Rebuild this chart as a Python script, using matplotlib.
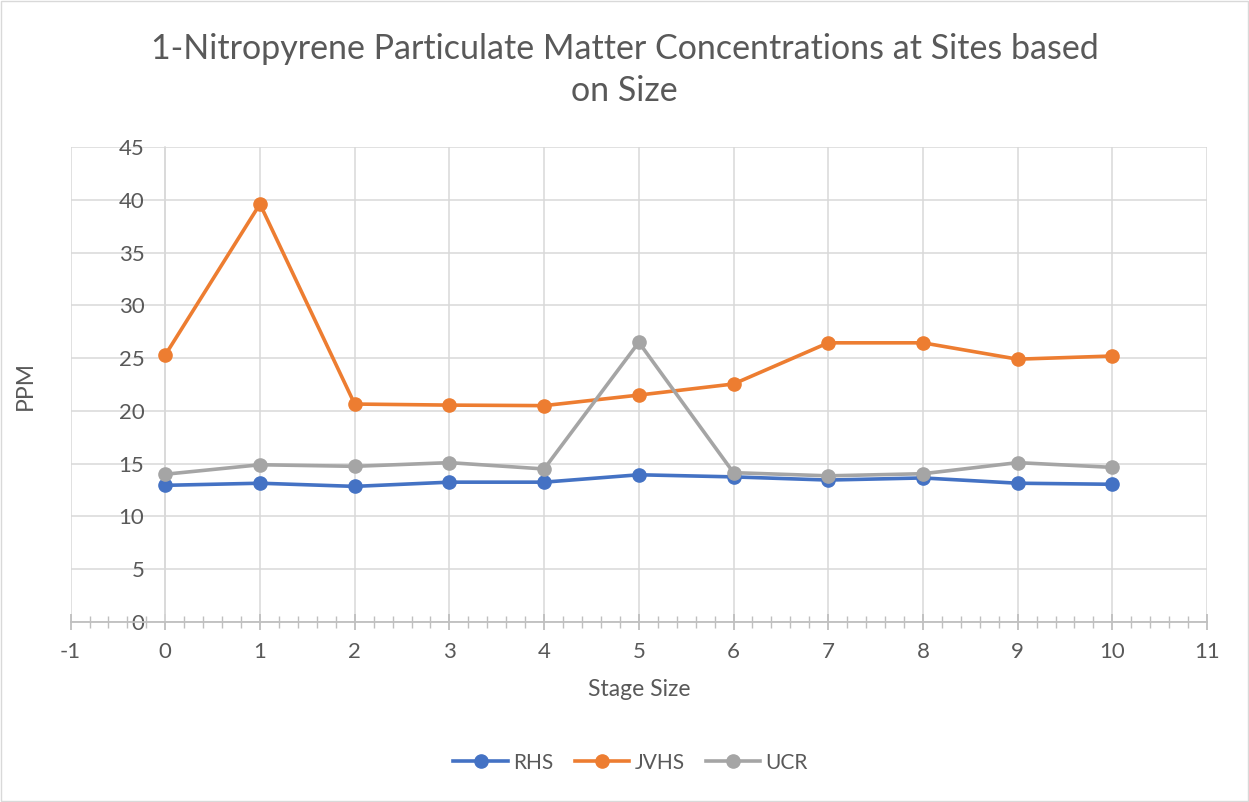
import matplotlib.pyplot as plt
from matplotlib.patches import Rectangle
from matplotlib.ticker import MultipleLocator

plt.rcParams['font.family'] = ['Lato', 'DejaVu Sans']
plt.rcParams['axes.unicode_minus'] = False

stage = [0, 1, 2, 3, 4, 5, 6, 7, 8, 9, 10]
rhs = [12.95, 13.15, 12.85, 13.25, 13.25, 13.95, 13.75, 13.45, 13.65, 13.15, 13.05]
jvhs = [25.3, 39.6, 20.65, 20.55, 20.5, 21.5, 22.55, 26.45, 26.45, 24.9, 25.2]
ucr = [14.0, 14.9, 14.75, 15.1, 14.5, 26.5, 14.15, 13.85, 14.05, 15.1, 14.65]

series = [('RHS', rhs, '#4472C4'), ('JVHS', jvhs, '#ED7D31'), ('UCR', ucr, '#A5A5A5')]
text_col = '#595959'
grid_col = '#d9d9d9'

fig = plt.figure(figsize=(12.49, 8.02), dpi=100)
fig.add_artist(Rectangle((0.0005, 0.0008), 0.999, 0.998, transform=fig.transFigure,
                         fill=False, edgecolor=grid_col, linewidth=1))
ax = fig.add_axes([0.0565, 0.2244, 0.9099, 0.5923])

for name, vals, col in series:
    ax.plot(stage, vals, color=col, lw=2.6, marker='o', markersize=9.5,
            label=name, zorder=3)

ax.set_xlim(-1, 11)
ax.set_ylim(0, 45)
ax.xaxis.set_major_locator(MultipleLocator(1))
ax.xaxis.set_minor_locator(MultipleLocator(0.2))
ax.yaxis.set_major_locator(MultipleLocator(5))
ax.grid(True, which='major', color=grid_col, lw=1.1, zorder=0)
ax.set_axisbelow(True)

for s in ['top', 'right']:
    ax.spines[s].set_visible(False)
ax.spines['left'].set_position(('data', 0))
ax.spines['left'].set_color(grid_col)
ax.spines['left'].set_linewidth(1.1)
ax.spines['bottom'].set_color('#bfbfbf')
ax.spines['bottom'].set_linewidth(1.3)

ax.tick_params(axis='x', which='major', direction='inout', length=11, width=1.3,
               color='#bfbfbf', labelsize=16, labelcolor=text_col, pad=9)
ax.tick_params(axis='x', which='minor', direction='inout', length=8, width=1,
               color='#bfbfbf')
ax.tick_params(axis='y', length=0, labelsize=16, labelcolor=text_col, pad=15)

ax.set_xlabel('Stage Size', fontsize=16.5, color=text_col, labelpad=12)
fig.text(0.02, 0.5193, 'PPM', rotation=90, fontsize=16.5, color=text_col,
         ha='center', va='center')

fig.text(0.5, 0.913, '1-Nitropyrene Particulate Matter Concentrations at Sites based\non Size',
         ha='center', va='center', fontsize=24.5, color=text_col, linespacing=1.4)

fig.legend(loc='center', bbox_to_anchor=(0.505, 0.049), ncol=3, frameon=False,
           fontsize=15, labelcolor=text_col, handlelength=2.6, columnspacing=1.05,
           handletextpad=0.25)

fig.savefig('out.png', dpi=100)
